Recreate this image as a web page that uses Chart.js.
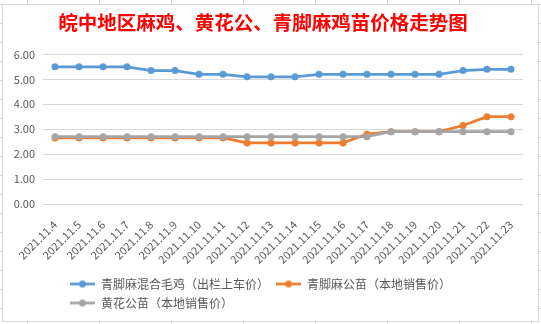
<!DOCTYPE html>
<html>
<head>
<meta charset="utf-8">
<script src="https://cdn.jsdelivr.net/npm/chart.js@4.4.1/dist/chart.umd.min.js"></script>
<style>
  html, body { margin: 0; padding: 0; }
  body {
    width: 541px; height: 324px; overflow: hidden; position: relative;
    background-color: #fff;
    background-image: linear-gradient(to right, #d0d4e4 1px, transparent 1px),
                      linear-gradient(to bottom, #d0d4e4 1px, transparent 1px);
    background-size: 72px 19px;
    background-position: 27px 23px;
  }
  #box {
    position: absolute; left: 2px; top: 4px;
    width: 535px; height: 316px;
    border: 1px solid #d9d9d9; background: #fff;
  }
</style>
</head>
<body>
<div id="box"><canvas id="chart" width="535" height="316"></canvas></div>
<script>
// data
const dates = ['2021.11.4', '2021.11.5', '2021.11.6', '2021.11.7', '2021.11.8',
  '2021.11.9', '2021.11.10', '2021.11.11', '2021.11.12', '2021.11.13',
  '2021.11.14', '2021.11.15', '2021.11.16', '2021.11.17', '2021.11.18',
  '2021.11.19', '2021.11.20', '2021.11.21', '2021.11.22', '2021.11.23'];
const mixedChicken = [5.5, 5.5, 5.5, 5.5, 5.35, 5.35, 5.2, 5.2, 5.1, 5.1,
  5.1, 5.2, 5.2, 5.2, 5.2, 5.2, 5.2, 5.35, 5.4, 5.4];
const maRoosterChick = [2.65, 2.65, 2.65, 2.65, 2.65, 2.65, 2.65, 2.65, 2.45, 2.45,
  2.45, 2.45, 2.45, 2.8, 2.9, 2.9, 2.9, 3.15, 3.5, 3.5];
const yellowRoosterChick = [2.7, 2.7, 2.7, 2.7, 2.7, 2.7, 2.7, 2.7, 2.7, 2.7,
  2.7, 2.7, 2.7, 2.7, 2.9, 2.9, 2.9, 2.9, 2.9, 2.9];
const seriesNames = ['青脚麻混合毛鸡（出栏上车价）', '青脚麻公苗（本地销售价）', '黄花公苗（本地销售价）'];
const seriesColors = ['#5b9bd5', '#ed7d31', '#a5a5a5'];
const yTickLabels = ['0.00', '1.00', '2.00', '3.00', '4.00', '5.00', '6.00'];
const chartTitle = '皖中地区麻鸡、黄花公、青脚麻鸡苗价格走势图';

const FONT = "'Noto Sans CJK SC', 'Noto Sans', sans-serif";
const TEXT = '#595959';

// little line + dot sample, like the excel legend
function legendMark(color) {
  const c = document.createElement('canvas');
  c.width = 25; c.height = 9;
  const g = c.getContext('2d');
  g.strokeStyle = color;
  g.lineWidth = 2.75;
  g.beginPath(); g.moveTo(0, 4.5); g.lineTo(25, 4.5); g.stroke();
  g.fillStyle = color;
  g.beginPath(); g.arc(12.5, 4.5, 3.5, 0, Math.PI * 2); g.fill();
  return c;
}
const legendMarks = seriesColors.map(legendMark);

// excel starts the legend rows further in than chart.js does
const legendShift = {
  id: 'legendShift',
  afterLayout(chart) {
    if (chart.legend) chart.legend.left = 60;
  }
};

const makeSet = (i, data, order) => ({
  label: seriesNames[i],
  data: data,
  borderColor: seriesColors[i],
  backgroundColor: seriesColors[i],
  borderWidth: 2.75,
  pointRadius: 3.5,
  pointHoverRadius: 3.5,
  pointBorderWidth: 0,
  tension: 0,
  order: order
});

new Chart(document.getElementById('chart'), {
  type: 'line',
  data: {
    labels: dates,
    datasets: [
      makeSet(0, mixedChicken, 2),
      makeSet(1, maRoosterChick, 1),
      makeSet(2, yellowRoosterChick, 0)
    ]
  },
  options: {
    responsive: false,
    animation: false,
    events: [],
    layout: { padding: { left: 0, right: 15, top: 0, bottom: 2 } },
    scales: {
      x: {
        offset: true,
        grid: { display: false },
        border: { display: false },
        ticks: {
          autoSkip: false, maxRotation: 45, minRotation: 45,
          color: TEXT, padding: 6,
          font: { family: FONT, size: 11 }
        },
        afterFit(s) { s.height = 67; }
      },
      y: {
        min: 0, max: 6,
        grid: { color: '#d9d9d9', drawTicks: false },
        border: { display: false },
        ticks: {
          stepSize: 1, color: TEXT, padding: 8,
          font: { family: FONT, size: 11 },
          callback: (v, i) => yTickLabels[i]
        },
        afterFit(s) { s.width = 40; }
      }
    },
    plugins: {
      title: {
        display: true,
        text: chartTitle,
        color: '#ff0000',
        font: { family: FONT, size: 19.5, weight: 'bold' },
        padding: { top: 6, bottom: 20 }
      },
      legend: {
        position: 'bottom',
        align: 'start',
        labels: {
          usePointStyle: true,
          pointStyleWidth: 25,
          padding: 7,
          color: TEXT,
          font: { family: FONT, size: 12 },
          generateLabels(chart) {
            const items = Chart.defaults.plugins.legend.labels.generateLabels(chart);
            items.sort((a, b) => a.datasetIndex - b.datasetIndex);
            items.forEach(it => { it.pointStyle = legendMarks[it.datasetIndex]; });
            return items;
          }
        }
      },
      tooltip: { enabled: false }
    }
  },
  plugins: [legendShift]
});
</script>
</body>
</html>
